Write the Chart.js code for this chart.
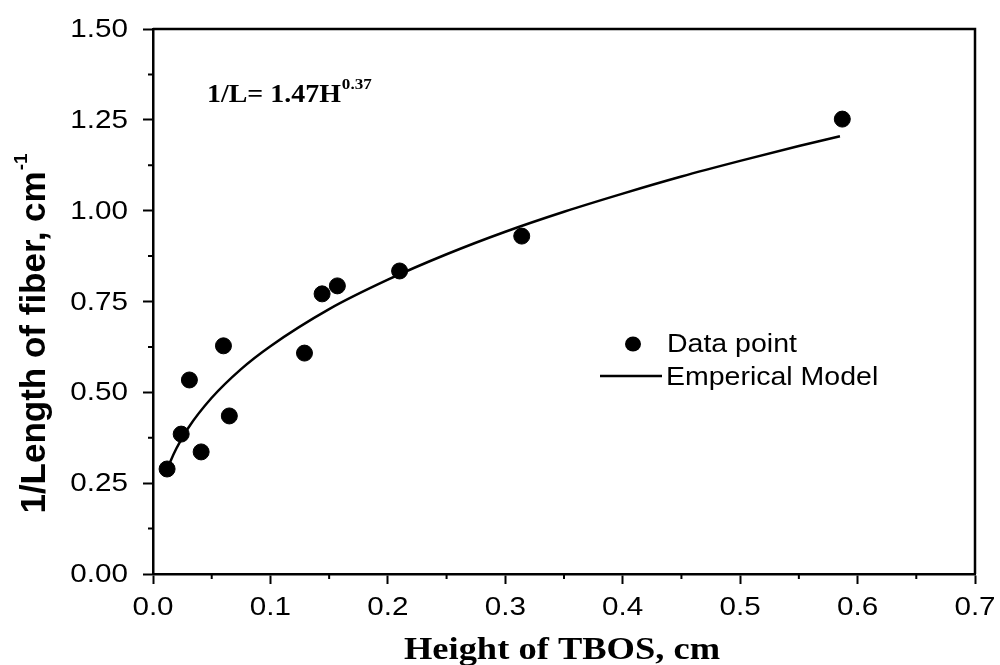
<!DOCTYPE html>
<html>
<head>
<meta charset="utf-8">
<script src="https://cdn.jsdelivr.net/npm/chart.js@4.4.1/dist/chart.umd.min.js"></script>
<style>
  html, body { margin: 0; padding: 0; background: #fff; }
  #wrap { width: 1000px; height: 665px; }
</style>
</head>
<body>
<div id="wrap"><canvas id="chart" width="1000" height="665"></canvas></div>
<script>
// measured points: height of TBOS (cm) vs 1/length of fiber (cm^-1)
const heightData = [0.012, 0.024, 0.031, 0.041, 0.060, 0.065, 0.129, 0.144, 0.157, 0.210, 0.314, 0.587];
const invLength = [0.289, 0.385, 0.534, 0.336, 0.628, 0.435, 0.608, 0.771, 0.793, 0.834, 0.930, 1.252];

// empirical model curve, 1/L = 1.47 H^0.37
const modelH = [0.012, 0.015, 0.02, 0.03, 0.05, 0.075, 0.1, 0.15, 0.2, 0.25, 0.3, 0.35, 0.4, 0.45, 0.5, 0.55, 0.585];
const modelY = [0.286, 0.311, 0.346, 0.402, 0.485, 0.564, 0.627, 0.729, 0.810, 0.880, 0.942, 0.997, 1.047, 1.094, 1.137, 1.178, 1.205];

const xTicks = [0, 0.1, 0.2, 0.3, 0.4, 0.5, 0.6, 0.7];
const yTicks = [0, 0.25, 0.5, 0.75, 1.0, 1.25, 1.5];
const xTickLabels = xTicks.map((v) => v.toFixed(1));
const yTickLabels = yTicks.map((v) => v.toFixed(2));

const pointData = heightData.map((h, i) => ({ x: h, y: invLength[i] }));
const modelData = modelH.map((h, i) => ({ x: h, y: modelY[i] }));

const SANS = "'Liberation Sans', Arial, sans-serif";
const SERIF = "'Liberation Serif', 'Times New Roman', serif";
const WIDE = 1.14; // text is set slightly wide

// draw text stretched horizontally, returns drawn width
function wideText(ctx, text, x, y, font, align) {
  ctx.save();
  ctx.font = font;
  ctx.textBaseline = "alphabetic";
  const w = ctx.measureText(text).width * WIDE;
  let left = x;
  if (align === "center") left = x - w / 2;
  if (align === "right") left = x - w;
  ctx.translate(left, y);
  ctx.scale(WIDE, 1);
  ctx.textAlign = "left";
  ctx.fillText(text, 0, 0);
  ctx.restore();
  return w;
}

// frame, minor ticks, tick labels, legend and titles
const decorations = {
  id: "decorations",
  afterDraw(chart) {
    const ctx = chart.ctx;
    const area = chart.chartArea;
    const xs = chart.scales.x;
    const ys = chart.scales.y;
    ctx.save();
    ctx.strokeStyle = "#000";
    ctx.fillStyle = "#000";

    // top and right frame lines
    ctx.lineWidth = 2.5;
    ctx.beginPath();
    ctx.moveTo(area.left, area.top);
    ctx.lineTo(area.right, area.top);
    ctx.lineTo(area.right, area.bottom);
    ctx.stroke();

    // minor ticks
    ctx.lineWidth = 2;
    ctx.beginPath();
    for (let i = 0; i < xTicks.length - 1; i++) {
      const px = xs.getPixelForValue((xTicks[i] + xTicks[i + 1]) / 2);
      ctx.moveTo(px, area.bottom);
      ctx.lineTo(px, area.bottom + 5);
    }
    for (let i = 0; i < yTicks.length - 1; i++) {
      const py = ys.getPixelForValue((yTicks[i] + yTicks[i + 1]) / 2);
      ctx.moveTo(area.left, py);
      ctx.lineTo(area.left - 5, py);
    }
    ctx.stroke();

    // tick labels
    const tickFont = "26px " + SANS;
    xTicks.forEach((v, i) => {
      wideText(ctx, xTickLabels[i], xs.getPixelForValue(v), 615, tickFont, "center");
    });
    yTicks.forEach((v, i) => {
      wideText(ctx, yTickLabels[i], 128, ys.getPixelForValue(v) + 8, tickFont, "right");
    });

    // legend
    ctx.beginPath();
    ctx.ellipse(633, 344, 8, 7.5, 0, 0, Math.PI * 2);
    ctx.fill();
    ctx.lineWidth = 2.5;
    ctx.beginPath();
    ctx.moveTo(600, 376);
    ctx.lineTo(662, 376);
    ctx.stroke();
    const legFont = "25px " + SANS;
    wideText(ctx, "Data point", 667, 352, legFont, "left");
    wideText(ctx, "Emperical Model", 666, 385, legFont, "left");

    // model equation
    const eqW = wideText(ctx, "1/L= 1.47H", 207, 102, "bold 24.5px " + SERIF, "left");
    wideText(ctx, "0.37", 207 + eqW + 1, 89, "bold 15px " + SERIF, "left");

    // x axis title
    wideText(ctx, "Height of TBOS, cm", 562, 659, "bold 32px " + SERIF, "center");

    // y axis title with superscript
    ctx.translate(45, 334);
    ctx.rotate(-Math.PI / 2);
    ctx.font = "bold 35px " + SANS;
    const yt = "1/Length of fiber, cm";
    const ytW = ctx.measureText(yt).width;
    ctx.font = "bold 19px " + SANS;
    const supW = ctx.measureText("-1").width;
    const start = -(ytW + supW) / 2;
    ctx.textAlign = "left";
    ctx.textBaseline = "alphabetic";
    ctx.font = "bold 35px " + SANS;
    ctx.fillText(yt, start, 0);
    ctx.font = "bold 19px " + SANS;
    ctx.fillText("-1", start + ytW + 1, -18);
    ctx.restore();
  }
};

const canvas = document.getElementById("chart");
const ctx = canvas.getContext("2d");
new Chart(ctx, {
  type: "scatter",
  data: {
    datasets: [
      {
        label: "Data point",
        data: pointData,
        backgroundColor: "#000",
        borderColor: "#000",
        pointRadius: 8,
        pointHoverRadius: 8,
        showLine: false,
      },
      {
        label: "Emperical Model",
        data: modelData,
        borderColor: "#000",
        borderWidth: 2.5,
        pointRadius: 0,
        showLine: true,
        cubicInterpolationMode: "monotone",
      },
    ],
  },
  options: {
    responsive: false,
    animation: false,
    events: [],
    layout: { padding: { top: 29, right: 25, left: 0, bottom: 0 } },
    plugins: { legend: { display: false }, tooltip: { enabled: false } },
    scales: {
      x: {
        type: "linear",
        min: 0,
        max: 0.7,
        afterBuildTicks: (s) => { s.ticks = xTicks.map((v) => ({ value: v })); },
        afterFit: (s) => { s.height = 91; },
        border: { display: true, color: "#000", width: 2.5 },
        grid: { drawOnChartArea: false, drawTicks: true, tickLength: 10, tickColor: "#000", tickWidth: 2 },
        ticks: { display: false },
      },
      y: {
        type: "linear",
        min: 0,
        max: 1.5,
        afterBuildTicks: (s) => { s.ticks = yTicks.map((v) => ({ value: v })); },
        afterFit: (s) => { s.width = 153; },
        border: { display: true, color: "#000", width: 2.5 },
        grid: { drawOnChartArea: false, drawTicks: true, tickLength: 10, tickColor: "#000", tickWidth: 2 },
        ticks: { display: false },
      },
    },
  },
  plugins: [decorations],
});
</script>
</body>
</html>
